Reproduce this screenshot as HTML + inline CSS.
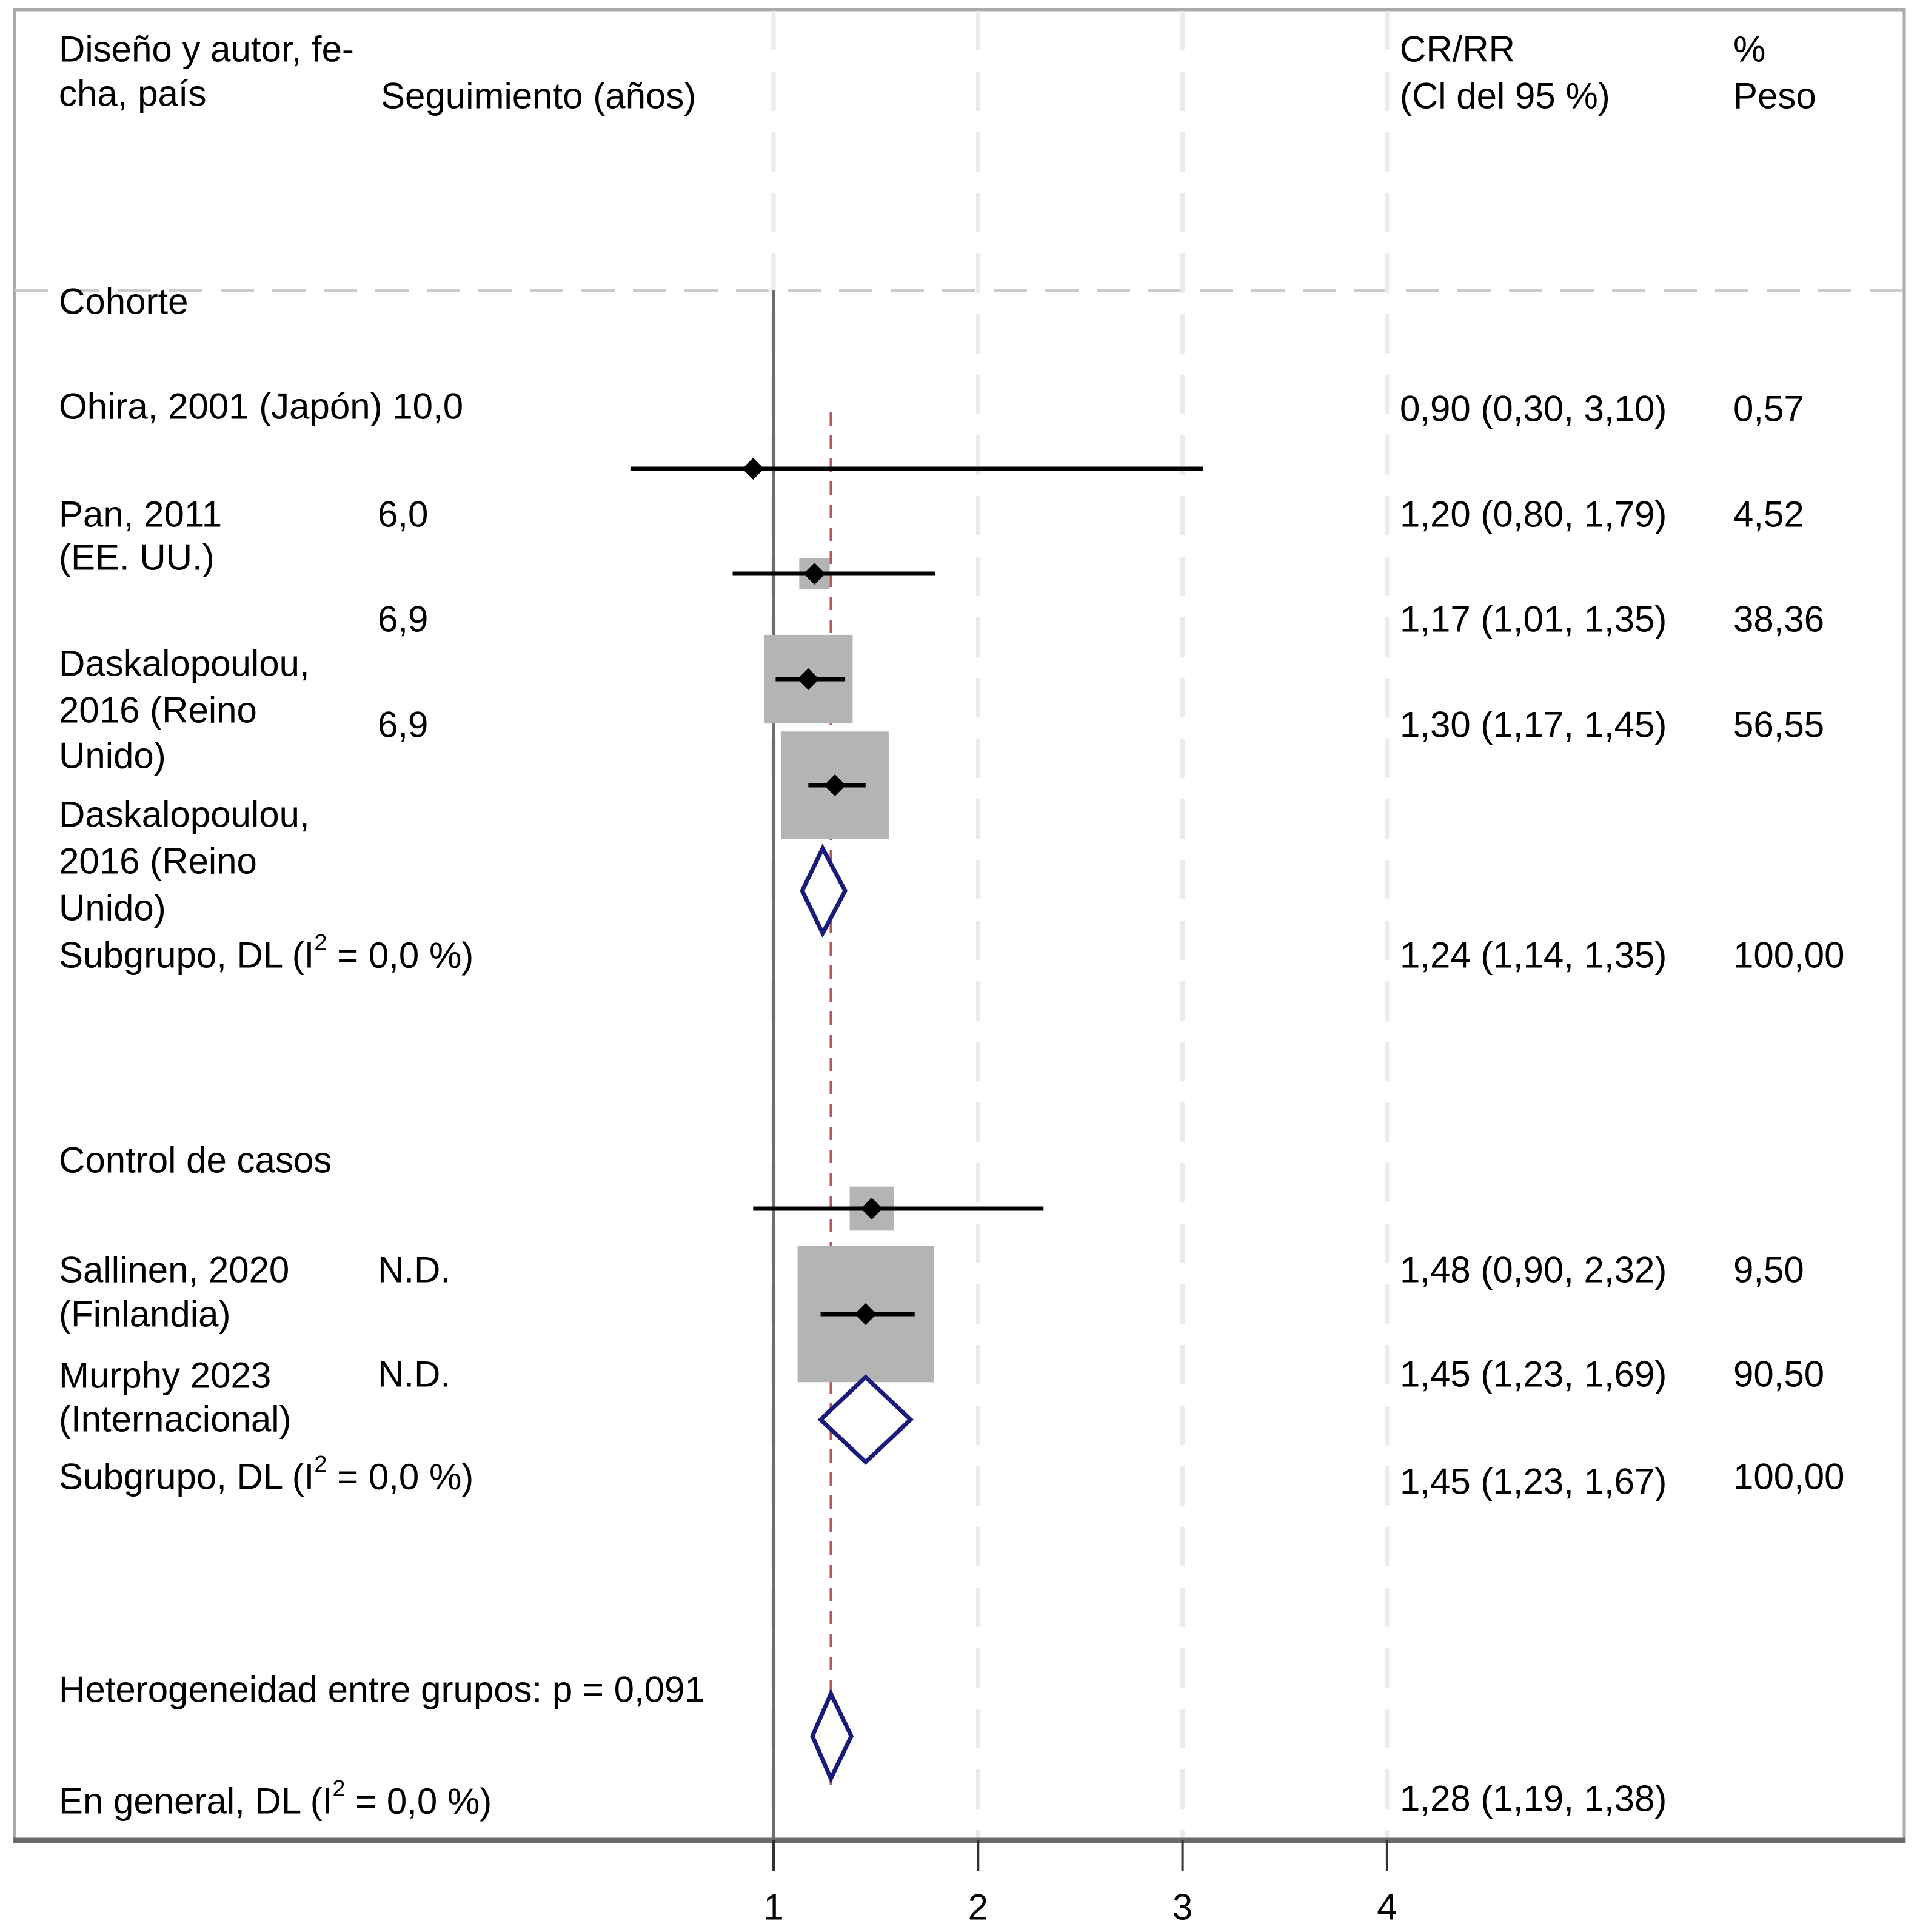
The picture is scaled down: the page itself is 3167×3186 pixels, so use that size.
<!DOCTYPE html>
<html><head><meta charset="utf-8"><style>
html,body{margin:0;padding:0;background:#fff;}
svg text{font-family:"Liberation Sans",sans-serif;font-size:60px;fill:#000;dominant-baseline:central;}
</style></head><body>
<svg id="chart" width="3167" height="3181" viewBox="0 0 3167 3181" xmlns="http://www.w3.org/2000/svg">
<rect x="24" y="16" width="3117" height="3021" fill="#fff" stroke="#aaa" stroke-width="5"/>
<line x1="24" y1="479" x2="3167" y2="479" stroke="#ccc" stroke-width="5" stroke-dasharray="55,30"/>
<g id="grid"></g>
<g id="marks"></g>
<g id="labels">
<text x="97" y="81">Diseño y autor, fe-</text>
<text x="97" y="154">cha, país</text>
<text x="628" y="158">Seguimiento (años)</text>
<text x="2309" y="81">CR/RR</text>
<text x="2309" y="158">(Cl del 95 %)</text>
<text x="2859" y="81">%</text>
<text x="2859" y="158">Peso</text>
<text x="97" y="497">Cohorte</text>
<text x="97" y="670">Ohira, 2001 (Japón) 10,0</text>
<text x="97" y="848">Pan, 2011</text>
<text x="97" y="919">(EE. UU.)</text>
<text x="623" y="848">6,0</text>
<text x="623" y="1021">6,9</text>
<text x="97" y="1094">Daskalopoulou,</text>
<text x="97" y="1171">2016 (Reino</text>
<text x="97" y="1246">Unido)</text>
<text x="623" y="1195">6,9</text>
<text x="97" y="1343">Daskalopoulou,</text>
<text x="97" y="1420">2016 (Reino</text>
<text x="97" y="1497">Unido)</text>
<text x="97" y="1575">Subgrupo, DL (I<tspan dy="-20" font-size="38">2</tspan><tspan dy="20"> = 0,0 %)</tspan></text>
<text x="97" y="1913">Control de casos</text>
<text x="97" y="2094">Sallinen, 2020</text>
<text x="97" y="2167">(Finlandia)</text>
<text x="623" y="2094">N.D.</text>
<text x="97" y="2268">Murphy 2023</text>
<text x="97" y="2340">(Internacional)</text>
<text x="623" y="2266">N.D.</text>
<text x="97" y="2435">Subgrupo, DL (I<tspan dy="-20" font-size="38">2</tspan><tspan dy="20"> = 0,0 %)</tspan></text>
<text x="97" y="2786">Heterogeneidad entre grupos: p = 0,091</text>
<text x="97" y="2970">En general, DL (I<tspan dy="-20" font-size="38">2</tspan><tspan dy="20"> = 0,0 %)</tspan></text>
<text x="2309" y="674">0,90 (0,30, 3,10)</text>
<text x="2859" y="674">0,57</text>
<text x="2309" y="848">1,20 (0,80, 1,79)</text>
<text x="2859" y="848">4,52</text>
<text x="2309" y="1021">1,17 (1,01, 1,35)</text>
<text x="2859" y="1021">38,36</text>
<text x="2309" y="1195">1,30 (1,17, 1,45)</text>
<text x="2859" y="1195">56,55</text>
<text x="2309" y="1575">1,24 (1,14, 1,35)</text>
<text x="2859" y="1575">100,00</text>
<text x="2309" y="2094">1,48 (0,90, 2,32)</text>
<text x="2859" y="2094">9,50</text>
<text x="2309" y="2266">1,45 (1,23, 1,69)</text>
<text x="2859" y="2266">90,50</text>
<text x="2309" y="2443">1,45 (1,23, 1,67)</text>
<text x="2859" y="2435">100,00</text>
<text x="2309" y="2966">1,28 (1,19, 1,38)</text>
</g>
<g id="axis"></g>
</svg>
<script>
const studyNames = ["ohira","pan","dask1","dask2","sallinen","murphy"];
const studyEst = [0.90,1.20,1.17,1.30,1.48,1.45];
const studyLo = [0.30,0.80,1.01,1.17,0.90,1.23];
const studyHi = [3.10,1.79,1.35,1.45,2.32,1.69];
const studyWeight = [0.57,4.52,38.36,56.55,9.50,90.50];
const studyRowY = [773,946,1120,1295,1993,2167];
const diamondNames = ["subgroup-cohort","subgroup-case-control","overall"];
const diamondEst = [1.24,1.45,1.28];
const diamondLo = [1.14,1.23,1.19];
const diamondHi = [1.35,1.67,1.38];
const diamondRowY = [1469,2341,2863];
const overallEst = 1.28;
const tickValues = [1,2,3,4];
const tickLabels = ["1","2","3","4"];

const NS="http://www.w3.org/2000/svg";
const x = v => 1276 + (v-1)*337.3;
function mk(tag, attrs, parent){const e=document.createElementNS(NS,tag);for(const k in attrs)e.setAttribute(k,attrs[k]);parent.appendChild(e);return e;}
const grid=document.getElementById('grid'), marks=document.getElementById('marks'), axis=document.getElementById('axis');

tickValues.forEach((t,i)=>{
  const g=mk('line',{x1:x(t),x2:x(t),y1:18,y2:3035,stroke:'#ebebeb','stroke-width':7,'stroke-dasharray':'65,35'},grid);
  
  
});
const nl=mk('line',{x1:x(1),x2:x(1),y1:479,y2:3035,stroke:'#6e6e6e','stroke-width':5},grid);


const ol=mk('line',{x1:x(overallEst),x2:x(overallEst),y1:680,y2:2946,stroke:'#b05a60','stroke-width':4,'stroke-dasharray':'22,16'},grid);



studyEst.forEach((e,i)=>{
  const y=studyRowY[i];
  const s=23.6*Math.sqrt(studyWeight[i]);
  const b=mk('rect',{x:x(e)-s/2,y:y-s/2,width:s,height:s,fill:'#b4b4b4'},marks);
  
  
  const l=mk('line',{x1:x(studyLo[i]),x2:x(studyHi[i]),y1:y,y2:y,stroke:'#000','stroke-width':7},marks);
  
  
  const p=mk('path',{d:`M${x(e)-18},${y} L${x(e)},${y-18} L${x(e)+18},${y} L${x(e)},${y+18} Z`,fill:'#000'},marks);
  
  
});
diamondEst.forEach((e,i)=>{
  const y=diamondRowY[i], h=70;
  const d=mk('path',{d:`M${x(diamondLo[i])},${y} L${x(e)},${y-h} L${x(diamondHi[i])},${y} L${x(e)},${y+h} Z`,fill:'#fff',stroke:'#1a1a7a','stroke-width':7},marks);
  
  
});
const ax=mk('line',{x1:22,x2:3143,y1:3035,y2:3035,stroke:'#6a6a6a','stroke-width':9},axis);


tickValues.forEach((t,i)=>{
  const tk=mk('line',{x1:x(t),x2:x(t),y1:3035,y2:3085,stroke:'#333','stroke-width':4},axis);
  
  
  const tl=mk('text',{x:x(t),y:3145,'text-anchor':'middle'},axis);
  tl.textContent=tickLabels[i];
  
  
});
</script>
</body></html>
